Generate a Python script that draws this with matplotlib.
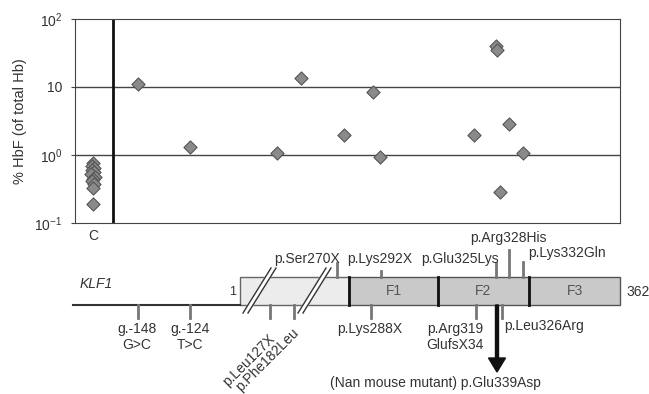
import matplotlib.pyplot as plt
from matplotlib.patches import Rectangle, FancyArrow

plt.rcParams['font.family'] = ['Liberation Sans', 'DejaVu Sans']
plt.rcParams['mathtext.fontset'] = 'custom'
plt.rcParams['mathtext.rm'] = 'Liberation Sans'

# % HbF in controls (column "C")
control_x = [93, 92, 94, 92, 94, 91, 95, 93, 92, 94, 93, 93]
control_hbf = [0.76, 0.70, 0.65, 0.60, 0.56, 0.52, 0.48, 0.45, 0.42, 0.38, 0.33, 0.19]

# % HbF in KLF1 mutation carriers, x = position along the gene drawing below
patient_x = [138, 190, 277, 301, 344, 373, 380, 474, 496, 497, 509, 523, 500]
patient_hbf = [11, 1.3, 1.07, 13.5, 2.0, 8.4, 0.95, 2.0, 40, 35, 2.9, 1.07, 0.29]

y_ticks = [0.1, 1, 10, 100]
y_tick_labels = ['$10^{-1}$', '$10^{0}$', '10', '$10^{2}$']

# gene drawing: domain boundaries and names
domain_edges = [240, 349, 438, 529, 620]
domain_names = ['', 'F1', 'F2', 'F3']

# mutations drawn above the protein box
above_labels = ['p.Ser270X', 'p.Lys292X', 'p.Glu325Lys', 'p.Arg328His', 'p.Lys332Gln']
above_x = [337, 381, 496, 509, 523]
above_text_x = [307, 380, 460, 508, 567]
above_text_y = [259, 259, 259, 238, 253]
above_tick_top = [263, 271, 263, 250, 262]

# mutations drawn below the line
below_labels = ['g.-148\nG>C', 'g.-124\nT>C', 'p.Lys288X', 'p.Arg319\nGlufsX34']
below_x = [138, 190, 371, 476]
below_text_x = [137, 190, 370, 455]

rot_labels = ['p.Leu127X', 'p.Phe182Leu']
rot_x = [270, 294]
rot_y = [332, 326]

ink = '#333333'

fig = plt.figure(figsize=(6.49, 3.94), dpi=100)

# gene drawing in pixel-like coordinates over the whole figure
ax2 = fig.add_axes([0, 0, 1, 1])
ax2.set_xlim(0, 649)
ax2.set_ylim(394, 0)
ax2.axis('off')

box_top, box_bot = 277, 305
ax2.plot([73, domain_edges[0]], [box_bot, box_bot], color=ink, lw=1.5)
ax2.add_patch(Rectangle((domain_edges[0], box_top), domain_edges[1] - domain_edges[0],
                        box_bot - box_top, facecolor='#ececec', edgecolor='#666666', lw=1))
for i in range(1, 4):
    x0, x1 = domain_edges[i], domain_edges[i + 1]
    ax2.add_patch(Rectangle((x0, box_top), x1 - x0, box_bot - box_top,
                            facecolor='#c9c9c9', edgecolor='#555555', lw=1))
    ax2.text((x0 + x1) / 2, (box_top + box_bot) / 2, domain_names[i], ha='center',
             va='center', fontsize=10, color='#555555')
for x in domain_edges[1:4]:
    ax2.plot([x, x], [box_top, box_bot], color='#111111', lw=2)

ax2.text(233, 292, '1', ha='center', va='center', fontsize=9, color=ink)
ax2.text(626, 292, '362', ha='left', va='center', fontsize=10, color=ink)
ax2.text(80, 284, 'KLF1', ha='left', va='center', fontsize=10, style='italic', color=ink)

# break marks
for bx in [243, 298]:
    ax2.fill([bx, bx + 28, bx + 33, bx + 5], [313, 268, 268, 313], color='white', zorder=3)
    ax2.plot([bx, bx + 28], [313, 268], color=ink, lw=1, zorder=4)
    ax2.plot([bx + 5, bx + 33], [313, 268], color=ink, lw=1, zorder=4)

for lab, x, tx, ty, top in zip(above_labels, above_x, above_text_x, above_text_y, above_tick_top):
    ax2.plot([x, x], [top, box_top], color='#777777', lw=2)
    ax2.text(tx, ty, lab, ha='center', va='center', fontsize=10, color=ink)

for lab, x, tx in zip(below_labels, below_x, below_text_x):
    ax2.plot([x, x], [box_bot, 318], color='#777777', lw=2)
    ax2.text(tx, 322, lab, ha='center', va='top', fontsize=10, color=ink,
             linespacing=1.2)

for lab, x, y in zip(rot_labels, rot_x, rot_y):
    ax2.plot([x, x], [box_bot, 318], color='#777777', lw=2)
    ax2.text(x - 2, y, lab, ha='right', va='top', rotation=45,
             rotation_mode='anchor', fontsize=10, color=ink)

# p.Leu326Arg and the Nan mouse arrow
ax2.plot([502, 502], [box_bot, 318], color='#777777', lw=2)
ax2.text(504, 326, 'p.Leu326Arg', ha='left', va='center', fontsize=10, color=ink)
ax2.add_patch(FancyArrow(497, box_bot, 0, 53, width=3, head_width=17, head_length=14,
                         length_includes_head=False, color='#111111'))
ax2.text(435, 383, '(Nan mouse mutant) p.Glu339Asp', ha='center', va='center',
         fontsize=10, color=ink)

# HbF scatter
ax = fig.add_axes([75 / 649, 1 - 223 / 394, 545 / 649, 204 / 394])
ax.set_yscale('log')
ax.set_xlim(75, 620)
ax.set_ylim(0.1, 100)
for v in [1, 10]:
    ax.axhline(v, color='#444444', lw=1)
ax.axvline(113, color='#111111', lw=2)
ax.scatter(control_x, control_hbf, marker='D', s=45, color='#8a8a8a',
           edgecolor='#555555', lw=0.8, zorder=3)
ax.scatter(patient_x, patient_hbf, marker='D', s=45, color='#8a8a8a',
           edgecolor='#555555', lw=0.8, zorder=3)
for s in ax.spines.values():
    s.set_color('#444444')
ax.set_yticks(y_ticks)
ax.set_yticklabels(y_tick_labels)
ax.minorticks_off()
ax.tick_params(axis='y', length=3, color='#444444', labelsize=10, labelcolor=ink, pad=6)
ax.set_xticks([93])
ax.set_xticklabels(['C'])
ax.tick_params(axis='x', length=0, labelsize=10, labelcolor=ink, pad=4)
ax.set_ylabel('% HbF (of total Hb)', fontsize=10.5, color=ink, labelpad=5)

fig.savefig('out.png', dpi=100)
